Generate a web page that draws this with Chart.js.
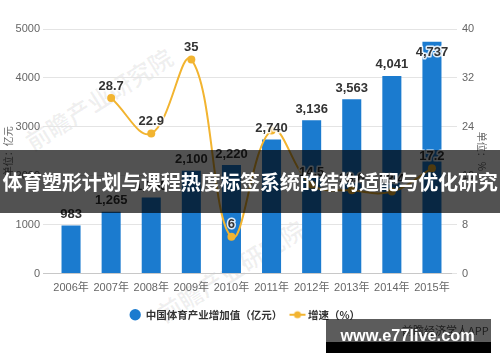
<!DOCTYPE html>
<html><head><meta charset="utf-8">
<script src="https://cdn.jsdelivr.net/npm/chart.js@4.4.1/dist/chart.umd.min.js"></script>
<style>
html,body{margin:0;padding:0;background:#fff;}
#wrap{position:relative;width:500px;height:362px;overflow:hidden;background:#fff;}
#c{position:absolute;left:0;top:0;}
.wmk{position:absolute;font:700 24px "Noto Sans CJK SC";color:rgba(0,0,0,0.06);white-space:nowrap;transform:rotate(-32deg);transform-origin:left top;}
#src{position:absolute;left:402px;top:322px;font:11px "Noto Sans CJK SC";color:#555;white-space:nowrap;}
#banner{position:absolute;left:0;top:150px;width:500px;height:63px;background:rgba(0,0,0,0.68);color:#fff;font:700 20px "Noto Sans CJK SC";line-height:63px;text-align:center;white-space:nowrap;letter-spacing:-0.2px;}
#wm1{position:absolute;left:326px;top:319px;width:165px;height:23px;background:rgba(0,0,0,0.64);}
#wm2{position:absolute;left:326px;top:342px;width:165px;height:11px;background:#000;}
#wmt{position:absolute;left:325px;top:322px;width:165px;text-align:center;font:700 16.3px "Liberation Sans";line-height:26px;color:#fff;white-space:nowrap;}
</style></head>
<body>
<div id="wrap">
<div class="wmk" style="left:18px;top:128px;">前瞻产业研究院</div>
<div class="wmk" style="left:150px;top:300px;">前瞻产业研究院</div>
<canvas id="c" width="500" height="362"></canvas>
<div id="src">前瞻经济学人APP</div>
<div id="banner">体育塑形计划与课程热度标签系统的结构适配与优化研究</div>
<div id="wm1"></div><div id="wm2"></div>
<div id="wmt">www.e77live.com</div>
</div>
<script>
const categories = ['2006年','2007年','2008年','2009年','2010年','2011年','2012年','2013年','2014年','2015年'];
const addedValue = [983, 1265, 1555, 2100, 2220, 2740, 3136, 3563, 4041, 4737];
const growthRate = [null, 28.7, 22.9, 35, 6, 23.4, 14.5, 13.6, 13.4, 17.2];
const showRateLabel = [false, true, true, true, true, false, true, true, true, true];
const seriesNames = ['中国体育产业增加值（亿元）', '增速（%）'];
const axisTitles = ['单位：亿元', '单位：%'];

const barColor = '#1b7bcf';
const lineColor = '#f2b430';
const tickFont = {family:'"Liberation Sans Narrow","Liberation Sans","Noto Sans CJK SC"', size:11};

const lineIcon = document.createElement('canvas');
lineIcon.width = 18; lineIcon.height = 10;
(function(){
  const c = lineIcon.getContext('2d');
  c.strokeStyle = lineColor; c.lineWidth = 2;
  c.beginPath(); c.moveTo(1,5); c.lineTo(17,5); c.stroke();
  c.fillStyle = lineColor; c.beginPath(); c.arc(9,5,3.5,0,Math.PI*2); c.fill();
})();

const labelPlugin = {
  id: 'valueLabels',
  afterDatasetsDraw(chart) {
    const ctx = chart.ctx;
    ctx.save();
    ctx.font = '700 13px "Liberation Sans"';
    ctx.textAlign = 'center';
    ctx.textBaseline = 'middle';
    ctx.lineJoin = 'round';
    const top = chart.chartArea.top;
    chart.getDatasetMeta(0).data.forEach((bar, i) => {
      const txt = addedValue[i].toLocaleString('en-US');
      let y = bar.y - 11;
      if (y - 8 < top) y = bar.y + 11;
      ctx.lineWidth = 3; ctx.strokeStyle = 'rgba(255,255,255,0.85)';
      ctx.strokeText(txt, bar.x, y);
      ctx.fillStyle = '#333'; ctx.fillText(txt, bar.x, y);
    });
    chart.getDatasetMeta(1).data.forEach((pt, i) => {
      if (growthRate[i] === null || !showRateLabel[i]) return;
      const txt = String(growthRate[i]);
      const y = pt.y - 12;
      ctx.lineWidth = 3; ctx.strokeStyle = 'rgba(255,255,255,0.85)';
      ctx.strokeText(txt, pt.x, y);
      ctx.fillStyle = '#333'; ctx.fillText(txt, pt.x, y);
    });
    ctx.restore();
  }
};

new Chart(document.getElementById('c'), {
  type: 'bar',
  data: {
    labels: categories,
    datasets: [
      {type:'bar', label: seriesNames[0], data: addedValue, yAxisID:'y', backgroundColor: barColor,
       borderWidth:0, barPercentage:0.95, categoryPercentage:0.5, order:1},
      {type:'line', label: seriesNames[1], data: growthRate, yAxisID:'y1', borderColor: lineColor,
       backgroundColor: lineColor, borderWidth:2, pointRadius:4, pointBorderWidth:0,
       pointBackgroundColor: lineColor, tension:0.4, order:0}
    ]
  },
  options: {
    responsive:false, animation:false,
    layout:{padding:{top:29, right:10, bottom:32, left:0}},
    plugins:{
      tooltip:{enabled:false},
      legend:{
        position:'bottom',
        labels:{
          usePointStyle:true, boxHeight:8, padding:10, color:'#333',
          font:{family:'"Noto Sans CJK SC"', size:10.5, weight:'700'},
          sort:(a,b)=>a.datasetIndex-b.datasetIndex,
          generateLabels(chart){
            const items = Chart.defaults.plugins.legend.labels.generateLabels(chart);
            items.forEach(it=>{
              if (it.datasetIndex===1) { it.pointStyle = lineIcon; }
              else { it.pointStyle = 'circle'; it.lineWidth = 0; }
            });
            return items;
          }
        }
      }
    },
    scales:{
      x:{
        grid:{display:false}, border:{display:false},
        ticks:{color:'#666', font:tickFont, padding:0, maxRotation:0},
        afterFit(s){ s.height = 26; }
      },
      y:{
        position:'left', min:0, max:5000,
        ticks:{stepSize:1000, color:'#666', font:tickFont, padding:3, callback:(v)=>String(v)},
        grid:{color:(c)=>c.tick && c.tick.value===0 ? '#c8c8c8' : '#e4e4e4', tickLength:8, lineWidth:1},
        border:{display:false},
        title:{display:true, text:axisTitles[0], color:'#666', font:{family:'"Noto Sans CJK SC"', size:10}, padding:{top:2,bottom:2}},
        afterFit(s){ s.width = 51; }
      },
      y1:{
        position:'right', min:0, max:40,
        ticks:{stepSize:8, color:'#666', font:tickFont, padding:5, callback:(v)=>String(v)},
        grid:{drawOnChartArea:false, drawTicks:true, tickLength:5, color:'#e4e4e4'},
        border:{display:false},
        title:{display:true, text:axisTitles[1], color:'#666', font:{family:'"Noto Sans CJK SC"', size:10}, padding:{top:2,bottom:2}},
        afterFit(s){ s.width = 38; }
      }
    }
  },
  plugins:[labelPlugin]
});
</script>
</body></html>
